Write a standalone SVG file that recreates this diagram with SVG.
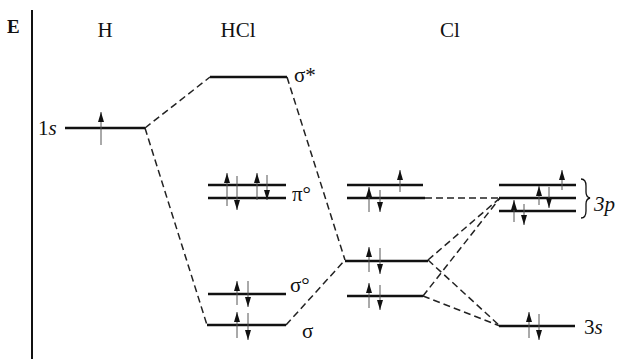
<svg xmlns="http://www.w3.org/2000/svg" width="621" height="359" viewBox="0 0 621 359">
<defs>
<marker id="ah" viewBox="0 0 10 6" refX="10" refY="3" markerWidth="10" markerHeight="6" markerUnits="userSpaceOnUse" orient="auto-start-reverse">
<path d="M0,0 L10,3 L0,6 Z" fill="#111"/>
</marker>
</defs>
<style>
.t{font-family:"Liberation Serif","Times New Roman",serif;font-size:21px;fill:#111}
.it{font-style:italic}
.lv{stroke:#111;stroke-width:2.6;fill:none}
.d{stroke:#222;stroke-width:1.5;stroke-dasharray:7,4;fill:none}
.up{stroke:#555;stroke-width:1;marker-start:url(#ah)}
.ax{stroke:#111;stroke-width:2}
</style>
<rect width="621" height="359" fill="#fff"/>
<g id="axis">
<line class="ax" x1="32" y1="10" x2="32" y2="359"/>
<text class="t" x="7" y="33" style="font-size:19px;font-weight:bold">E</text>
</g>
<g id="headers">
<text class="t" x="105" y="37" text-anchor="middle">H</text>
<text class="t" x="238" y="37" text-anchor="middle">HCl</text>
<text class="t" x="450" y="37" text-anchor="middle">Cl</text>
</g>
<g id="connectors">
<path class="d" d="M145,128 L210,77"/>
<path class="d" d="M145,128 L207,325"/>
<path class="d" d="M287,77 L345,260"/>
<path class="d" d="M286,325 L345,260"/>
<path class="d" d="M425,198 L500,198"/>
<path class="d" d="M428,260 L500,198"/>
<path class="d" d="M423,296 L500,198"/>
<path class="d" d="M428,260 L500,326"/>
<path class="d" d="M423,296 L500,326"/>
</g>
<g id="h1s">
<line class="lv" x1="65" y1="128" x2="145" y2="128"/>
<text class="t" x="38" y="135">1<tspan class="it">s</tspan></text>
<line class="up" x1="101" y1="112" x2="101" y2="145"/>
</g>
<g id="sigma-star">
<line class="lv" x1="210" y1="77" x2="287" y2="77"/>
<text class="t" x="294" y="82">σ*</text>
</g>
<g id="pi0">
<line class="lv" x1="208" y1="185" x2="286" y2="185"/>
<line class="lv" x1="208" y1="198" x2="286" y2="198"/>
<line class="up" x1="227" y1="173" x2="227" y2="206"/>
<line class="up" x1="237" y1="210" x2="237" y2="176"/>
<line class="up" x1="257" y1="173" x2="257" y2="200"/>
<line class="up" x1="267" y1="200" x2="267" y2="175"/>
<text class="t" x="292" y="201">π°</text>
</g>
<g id="sigma0">
<line class="lv" x1="208" y1="294" x2="286" y2="294"/>
<line class="up" x1="237" y1="281" x2="237" y2="305"/>
<line class="up" x1="248" y1="307" x2="248" y2="281"/>
<text class="t" x="290" y="292">σ°</text>
</g>
<g id="sigma">
<line class="lv" x1="207" y1="325" x2="286" y2="325"/>
<line class="up" x1="237" y1="312" x2="237" y2="338"/>
<line class="up" x1="248" y1="340" x2="248" y2="313"/>
<text class="t" x="302" y="338">σ</text>
</g>
<g id="cl-p">
<line class="lv" x1="347" y1="185" x2="423" y2="185"/>
<line class="lv" x1="347" y1="198" x2="425" y2="198"/>
<line class="up" x1="400" y1="170" x2="400" y2="192"/>
<line class="up" x1="369" y1="187" x2="369" y2="212"/>
<line class="up" x1="380" y1="212" x2="380" y2="190"/>
</g>
<g id="cl-mid1">
<line class="lv" x1="345" y1="261" x2="428" y2="261"/>
<line class="up" x1="369" y1="247" x2="369" y2="272"/>
<line class="up" x1="380" y1="274" x2="380" y2="248"/>
</g>
<g id="cl-mid2">
<line class="lv" x1="347" y1="296" x2="423" y2="296"/>
<line class="up" x1="369" y1="283" x2="369" y2="308"/>
<line class="up" x1="380" y1="310" x2="380" y2="285"/>
</g>
<g id="cl-3p">
<line class="lv" x1="499" y1="185" x2="576" y2="185"/>
<line class="lv" x1="499" y1="198" x2="576" y2="198"/>
<line class="lv" x1="499" y1="211" x2="576" y2="211"/>
<line class="up" x1="562" y1="170" x2="562" y2="190"/>
<line class="up" x1="539" y1="186" x2="539" y2="205"/>
<line class="up" x1="549" y1="208" x2="549" y2="187"/>
<line class="up" x1="514" y1="200" x2="514" y2="222"/>
<line class="up" x1="524" y1="225" x2="524" y2="204"/>
<path d="M581,179 Q586,179 586,186 L586,192 Q586,197 590,198 Q586,199 586,204 L586,211 Q586,218 581,218" fill="none" stroke="#111" stroke-width="1.3"/>
<text class="t it" x="594" y="211">3p</text>
</g>
<g id="cl-3s">
<line class="lv" x1="499" y1="326" x2="575" y2="326"/>
<line class="up" x1="529" y1="312" x2="529" y2="338"/>
<line class="up" x1="539" y1="340" x2="539" y2="314"/>
<text class="t" x="584" y="334">3<tspan class="it">s</tspan></text>
</g>
</svg>
